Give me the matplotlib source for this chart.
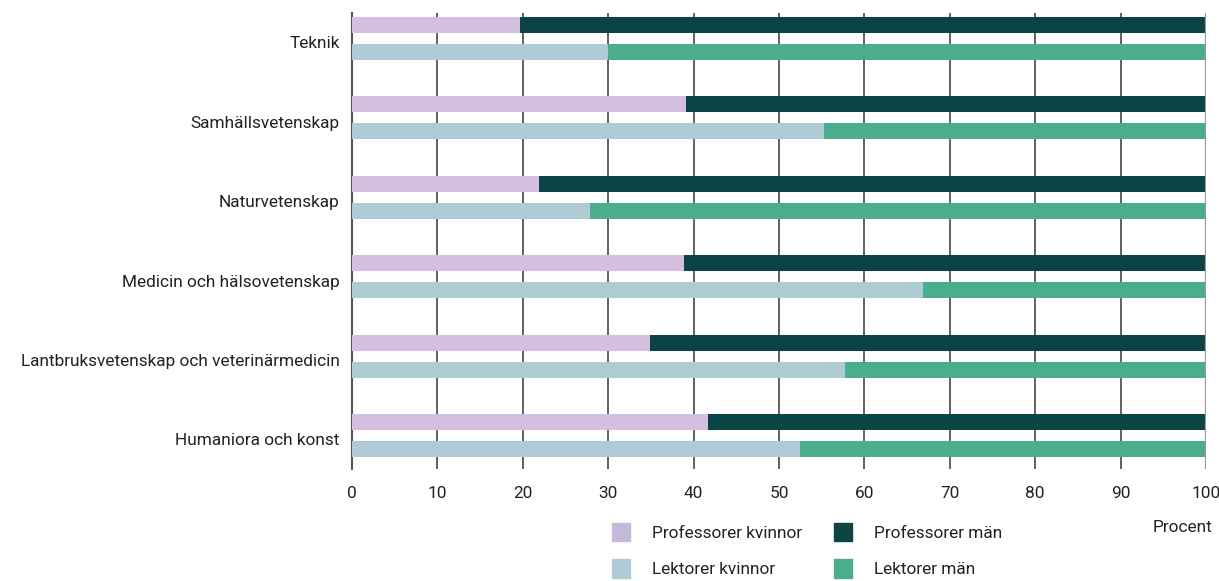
import matplotlib
matplotlib.use("Agg")
import matplotlib.pyplot as plt
from matplotlib.patches import Patch
import numpy as np

categories = ["Teknik", "Samhällsvetenskap", "Naturvetenskap",
              "Medicin och hälsovetenskap",
              "Lantbruksvetenskap och veterinärmedicin",
              "Humaniora och konst"]
prof_kvinnor = [19.7, 39.1, 21.9, 38.9, 34.9, 41.7]
lekt_kvinnor = [30.0, 55.3, 27.9, 66.9, 57.7, 52.5]
prof_man = [100 - v for v in prof_kvinnor]
lekt_man = [100 - v for v in lekt_kvinnor]
xticks = [0, 10, 20, 30, 40, 50, 60, 70, 80, 90, 100]

c_pk = "#D4BFE1"
c_pm = "#0B4444"
c_lk = "#AFCBD6"
c_lm = "#4AAD8E"

plt.rcParams['font.family'] = ['Roboto', 'DejaVu Sans']
FS = 12.4

fig = plt.figure(figsize=(12.19, 5.81), dpi=100)
ax = fig.add_axes([352/1219, 1 - 469/581, (1206-352)/1219, (469-13)/581])

y = np.arange(len(categories))
off = 0.17
h = 0.2015
ax.barh(y - off, prof_kvinnor, height=h, color=c_pk, zorder=3)
ax.barh(y - off, prof_man, left=prof_kvinnor, height=h, color=c_pm, zorder=3)
ax.barh(y + off, lekt_kvinnor, height=h, color=c_lk, zorder=3)
ax.barh(y + off, lekt_man, left=lekt_kvinnor, height=h, color=c_lm, zorder=3)

ax.set_xlim(0, 100)
ax.set_ylim(len(categories) - 1 + 0.422, -0.321)
ax.set_xticks(xticks)
ax.set_xticklabels([str(t) for t in xticks], fontsize=FS, color="#222222")
ax.tick_params(axis='x', length=0, pad=12)
ax.set_yticks(y + 0.05)
ax.set_yticklabels(categories, fontsize=FS, color="#222222")
ax.tick_params(axis='y', length=0, pad=9)

for t in xticks[1:-1]:
    ax.axvline(t, color="#555555", lw=1.3, zorder=1)
ax.axvline(100, color="#9a9a9a", lw=1.6, zorder=4)
for s in ["top", "right", "bottom"]:
    ax.spines[s].set_visible(False)
ax.spines["left"].set_color("#555555")
ax.spines["left"].set_linewidth(1.5)

handles = [Patch(color="#C3B9D8", label="Professorer kvinnor"),
           Patch(color=c_lk, label="Lektorer kvinnor"),
           Patch(color=c_pm, label="Professorer män"),
           Patch(color=c_lm, label="Lektorer män")]
fig.legend(handles=handles, ncol=2, loc="upper left",
           bbox_to_anchor=(612/1219, 1 - 523/581), frameon=False,
           fontsize=FS, handlelength=1.05, handleheight=1.27,
           handletextpad=1.3, columnspacing=1.8, labelspacing=0.8 + 4/17.2,
           borderpad=0, borderaxespad=0, labelcolor="#222222")

fig.text(1212/1219, 1 - 528/581, "Procent", ha="right", va="center",
         fontsize=FS, color="#222222")

fig.savefig("out.png", dpi=100)
